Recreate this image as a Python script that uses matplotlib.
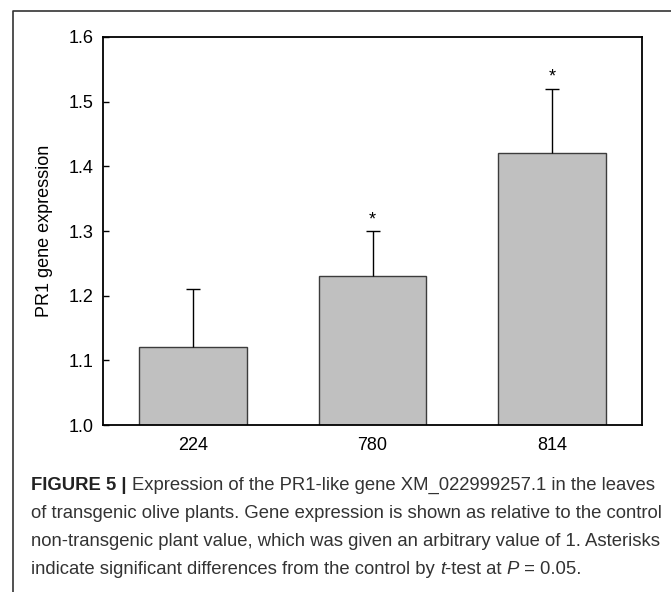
import matplotlib
matplotlib.use('Agg')
import matplotlib.pyplot as plt
import matplotlib.transforms as mtransforms
from matplotlib.lines import Line2D
import numpy as np

plt.rcParams['font.family'] = ['Liberation Sans', 'DejaVu Sans']

# data
lines = ['224', '780', '814']
expr = [1.12, 1.23, 1.42]
err = [0.09, 0.07, 0.10]
signif = [False, True, True]

W, H = 671, 592
fig = plt.figure(figsize=(W / 100, H / 100), dpi=100)
ax = fig.add_axes([103 / W, 1 - 425 / H, (642 - 103) / W, (425 - 37) / H])

x = np.arange(len(lines))
ax.bar(x, expr, width=0.6, color='#c0c0c0', edgecolor='#3c3c3c', linewidth=1.0, zorder=2)
eb = ax.errorbar(x, expr, yerr=[np.zeros(len(err)), err], fmt='none', ecolor='black',
                 elinewidth=1.0, capsize=4.7, capthick=1.0, zorder=3)
# only the upper cap is drawn in the original
eb[1][0].set_visible(False)
for xi, v, e, s in zip(x, expr, err, signif):
    if s:
        ax.annotate('*', (xi, v + e), xytext=(0, 2), textcoords='offset points',
                    ha='center', va='bottom', fontsize=13)

ax.set_xlim(-0.5, 2.5)
ax.set_ylim(1.0, 1.6)
ax.set_yticks([1.0, 1.1, 1.2, 1.3, 1.4, 1.5, 1.6])
ax.set_yticklabels(['1.0', '1.1', '1.2', '1.3', '1.4', '1.5', '1.6'])
ax.set_xticks(x)
ax.set_xticklabels(lines)
ax.tick_params(axis='y', direction='in', length=4, width=1, labelsize=13, pad=7)
ax.tick_params(axis='x', length=0, labelsize=13, pad=9)
for sp in ax.spines.values():
    sp.set_linewidth(1.3)
ax.set_ylabel('PR1 gene expression', fontsize=13)
lab_tr = mtransforms.blended_transform_factory(fig.transFigure, ax.transAxes)
ax.yaxis.set_label_coords(45 / W, 0.5, transform=lab_tr)
ax.yaxis.label.set_va('center')

# outer frame (open at right and bottom)
fig.add_artist(Line2D([13 / W, 13 / W, 1.0], [0.0, 1 - 11 / H, 1 - 11 / H],
                      transform=fig.transFigure, color='#333333', linewidth=1.2))

# caption, built run by run
cap_col = '#333333'
cap_size = 13.3
caption = [
    [('FIGURE 5 | ', 'bold'), ('Expression of the PR1-like gene XM_022999257.1 in the leaves', 'normal')],
    [('of transgenic olive plants. Gene expression is shown as relative to the control', 'normal')],
    [('non-transgenic plant value, which was given an arbitrary value of 1. Asterisks', 'normal')],
    [('indicate significant differences from the control by ', 'normal'), ('t', 'italic'),
     ('-test at ', 'normal'), ('P', 'italic'), (' = 0.05.', 'normal')],
]
baselines = [490, 518, 546, 574]

fig.canvas.draw()
renderer = fig.canvas.get_renderer()
for runs, yb in zip(caption, baselines):
    xpos = 31
    for txt, style in runs:
        kw = dict(fontsize=cap_size, color=cap_col, va='baseline', ha='left')
        if style == 'bold':
            kw['fontweight'] = 'bold'
            kw['color'] = '#222222'
        elif style == 'italic':
            kw['fontstyle'] = 'italic'
        t = fig.text(xpos / W, 1 - yb / H, txt, **kw)
        bb = t.get_window_extent(renderer)
        xpos += bb.width

fig.savefig('out.png', dpi=100)
